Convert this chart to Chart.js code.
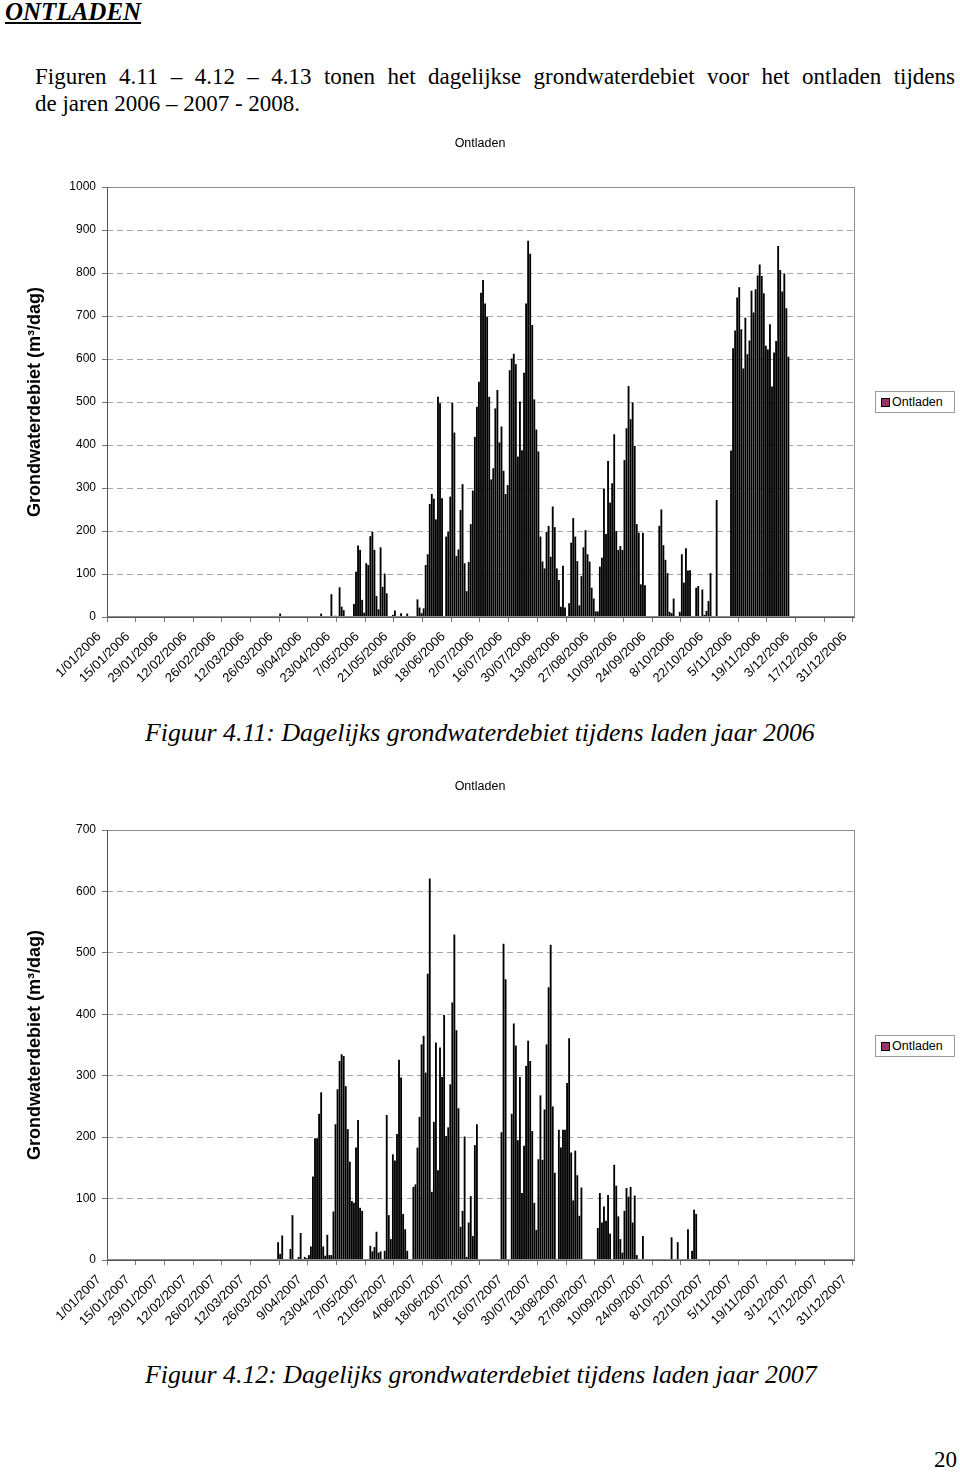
<!DOCTYPE html>
<html>
<head>
<meta charset="utf-8">
<script src="https://cdn.jsdelivr.net/npm/chart.js@4.4.1/dist/chart.umd.min.js"></script>
<style>
html, body { margin: 0; padding: 0; background: #fff; }
body { width: 960px; height: 1479px; position: relative; overflow: hidden; font-family: 'Liberation Serif', 'Times New Roman', serif; color: #000; }
.abs { position: absolute; line-height: 1; white-space: nowrap; }
#kop { left: 5px; top: -1px; font-size: 25px; font-weight: bold; font-style: italic; text-decoration: underline; }
#p1 { left: 35px; top: 65px; width: 920px; font-size: 23px; text-align: justify; text-align-last: justify; }
#p2 { left: 35px; top: 92px; font-size: 23px; }
.cap { left: 145px; font-size: 25.8px; font-style: italic; }
#nr { right: 3px; top: 1448px; font-size: 23px; }
.box { position: absolute; }
.legend { position: absolute; left: 875px; width: 78px; height: 20px; border: 1px solid #9a9a9a; background: #fff;
  font-family: 'Liberation Sans', Arial, sans-serif; font-size: 12.5px; line-height: 20px; }
.legend i { position: absolute; left: 5px; top: 6px; width: 7px; height: 7px; background: #993366; border: 1px solid #000; }
.legend span { position: absolute; left: 16px; top: 0; }
</style>
</head>
<body>
<div id="kop" class="abs">ONTLADEN</div>
<div id="p1" class="abs">Figuren 4.11 – 4.12 – 4.13 tonen het dagelijkse grondwaterdebiet voor het ontladen tijdens</div>
<div id="p2" class="abs">de jaren 2006 – 2007 - 2008.</div>

<div class="box" style="left:0;top:130px;"><canvas id="c2006" width="960" height="570"></canvas></div>
<div class="legend" style="top:391px;"><i></i><span>Ontladen</span></div>
<div class="abs cap" style="top:720px;">Figuur 4.11: Dagelijks grondwaterdebiet tijdens laden jaar 2006</div>

<div class="box" style="left:0;top:773px;"><canvas id="c2007" width="960" height="570"></canvas></div>
<div class="legend" style="top:1035px;"><i></i><span>Ontladen</span></div>
<div class="abs cap" style="top:1362px;">Figuur 4.12: Dagelijks grondwaterdebiet tijdens laden jaar 2007</div>

<div id="nr" class="abs">20</div>

<script>
// daily values (m3/dag), first array element = day index given by firstDay
const firstDay2006 = 84;
const ontladen2006 = [
  8, 0,0,0,0,0,0,0,0,0,0,0,0,0,0,0,0,0,0,0,
  8, 0,0,0,0, 53, 0, 3, 0, 69, 24, 16, 0,0,0,0,
  30,105,166,156,40,10,125,121,188,198,156,49,18,162,70,101,55,
  0,0,5,15,0,0,9,0,0,8,0,0,0,0,
  41,22,9,20,121,146,263,286,275,227,
  512,497,276,0,187,198,280,498,429,142,
  157,249,309,125,60,128,216,294,419,489,
  547,754,784,729,698,512,320,346,485,528,
  406,443,340,286,307,574,601,612,588,373,
  501,388,568,729,875,845,679,506,436,385,
  187,129,113,198,212,140,257,209,113,86,
  24,119,22,0,32,173,230,187,130,27,
  95,162,202,146,129,68,43,13,13,117,
  138,299,193,363,266,311,425,200,156,165,
  156,365,439,537,460,499,398,216,196,76,
  196,74,0,0,0,0,0,0,212,250,
  167,133,102,12,9,43,0,0,12,146,
  80,160,108,109,0,0,68,72,0,64,
  5,14,37,102,0,0,272,0,0,0,
  0,0,0,387,625,666,743,767,669,578,
  696,611,643,759,708,762,794,820,793,753,
  631,622,681,536,615,642,863,807,757,799,
  718,605
];

const firstDay2007 = 83;
const ontladen2007 = [
  29,10,40,0,0,0,18,73,
  0,0,5,44,0,5,3,8,22,136,
  198,198,238,273,22,7,41,8,8,79,
  221,278,324,335,332,283,213,160,96,93,
  183,228,85,80,0,0,0,23,14,21,
  46,12,14,0,15,236,73,34,172,162,
  205,326,297,75,50,15,0,0,119,123,
  183,233,351,365,305,466,621,111,225,354,
  146,346,298,399,202,216,286,419,530,374,
  247,54,80,201,5,61,104,39,187,221,
  0,0,0,0,0,0,0,0,0,0,
  0,208,515,457,0,0,238,385,349,195,
  298,109,186,316,357,324,210,93,49,164,
  268,163,245,351,444,513,250,142,0,212,
  183,212,212,288,361,175,97,178,138,72,
  118,0,0,0,0,0,0,0,52,109,
  61,87,64,106,43,0,155,121,71,34,
  12,80,117,103,119,61,105,8,0,0,
  39,0,0,0,0,0,0,0,0,0,
  0,0,0,0,37,0,0,29,0,0,
  0,0,50,0,15,82,75
];

const yMax2006 = 1000;
const yMax2007 = 700;
const labelEvery = 14;

function dayLabels(year) {
  const out = [];
  for (let i = 0; i < 365; i++) {
    const d = new Date(year, 0, 1 + i);
    out.push(d.getDate() + '/' + String(d.getMonth() + 1).padStart(2, '0') + '/' + year);
  }
  return out;
}

function fullYear(first, values) {
  const out = new Array(365).fill(0);
  values.forEach((v, i) => { out[first + i] = v; });
  return out;
}

const sans = 'Liberation Sans, Arial, sans-serif';

// grey frame round the plot area
const frame = {
  id: 'frame',
  afterDatasetsDraw(chart) {
    const { ctx, chartArea: a } = chart;
    ctx.save();
    ctx.lineWidth = 1;
    ctx.strokeStyle = '#8c8c8c';
    ctx.strokeRect(Math.round(a.left) + 0.5, Math.round(a.top) + 0.5,
      Math.round(a.right - a.left) - 1, Math.round(a.bottom - a.top) - 1);
    ctx.strokeStyle = '#555';
    ctx.beginPath();
    ctx.moveTo(Math.round(a.left) + 0.5, Math.round(a.top));
    ctx.lineTo(Math.round(a.left) + 0.5, Math.round(a.bottom) + 0.5);
    ctx.lineTo(Math.round(a.right), Math.round(a.bottom) + 0.5);
    ctx.stroke();
    ctx.restore();
  }
};

function drawChart(id, year, first, values, yMax) {
  const labels = dayLabels(year);
  const ctx = document.getElementById(id).getContext('2d');
  new Chart(ctx, {
    type: 'bar',
    data: {
      labels: labels,
      datasets: [{
        label: 'Ontladen',
        data: fullYear(first, values),
        backgroundColor: '#000',
        borderWidth: 0,
        barPercentage: 0.9,
        categoryPercentage: 1
      }]
    },
    options: {
      responsive: false,
      animation: false,
      layout: { padding: { left: 20, right: 20, top: 0, bottom: 0 } },
      plugins: {
        legend: { display: false },
        tooltip: { enabled: false },
        title: {
          display: true,
          text: 'Ontladen',
          color: '#000',
          font: { family: sans, size: 12.5, weight: 'normal' },
          padding: { top: 6, bottom: 36 }
        }
      },
      scales: {
        x: {
          ticks: {
            autoSkip: false,
            minRotation: 45,
            maxRotation: 45,
            labelOffset: -9,
            padding: 7,
            color: '#000',
            font: { family: sans, size: 13 },
            callback: (v, i) => (i % labelEvery === 0 ? labels[i] : '')
          },
          grid: {
            drawOnChartArea: false,
            tickLength: 5,
            color: c => (c.index % labelEvery === 0 ? '#777' : 'rgba(0,0,0,0)')
          },
          border: { display: false },
          afterFit: s => { s.height = 83; }
        },
        y: {
          min: 0,
          max: yMax,
          ticks: { stepSize: 100, padding: 6, color: '#000', font: { family: sans, size: 12 }, callback: v => String(v) },
          grid: { color: '#a6a6a6', tickLength: 5, tickColor: '#777', tickBorderDash: [] },
          border: { display: false, dash: [6, 4] },
          title: {
            display: true,
            text: 'Grondwaterdebiet (m³/dag)',
            color: '#000',
            font: { family: sans, size: 18, weight: 'bold' }
          },
          afterFit: s => { s.width = 87; }
        },
        // empty right-hand axis: keeps room for the legend and keeps the title centred on the page
        spare: {
          type: 'linear',
          position: 'right',
          grid: { display: false },
          ticks: { display: false },
          border: { display: false },
          afterFit: s => { s.width = 85; }
        }
      }
    },
    plugins: [frame]
  });
}

drawChart('c2006', 2006, firstDay2006, ontladen2006, yMax2006);
drawChart('c2007', 2007, firstDay2007, ontladen2007, yMax2007);
</script>
</body>
</html>
